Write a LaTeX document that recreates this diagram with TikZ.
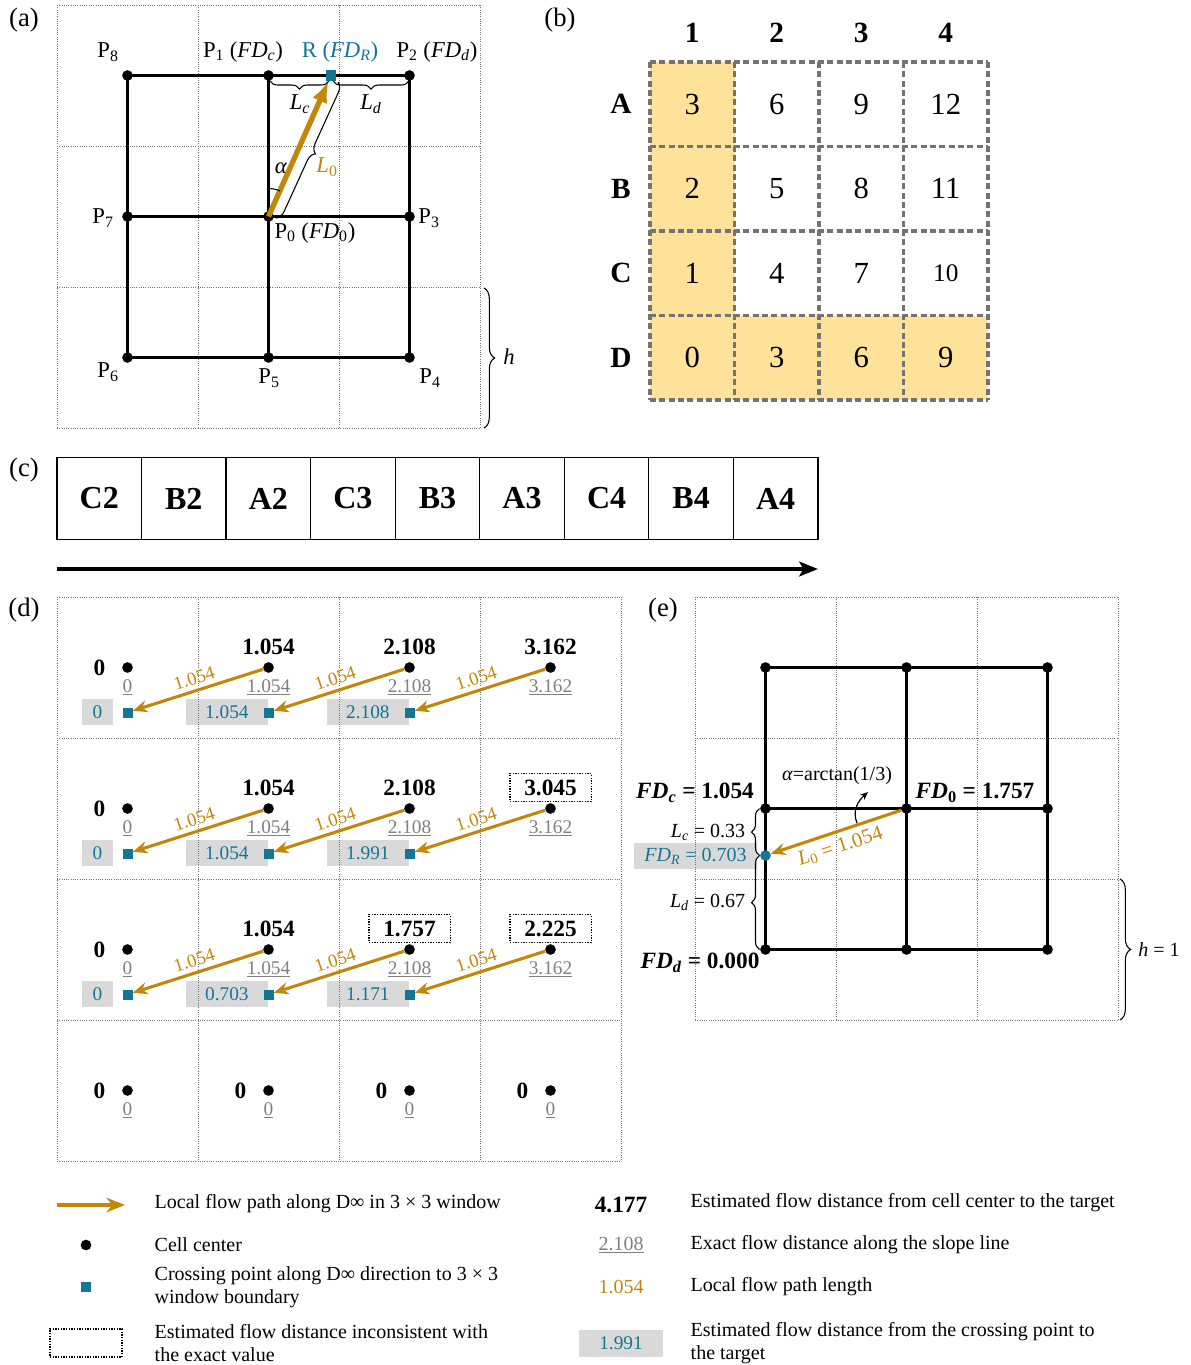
\documentclass[tikz,border=0pt]{standalone}
\usepackage{fontspec}
\setmainfont{Liberation Serif}
\usepackage{xcolor}
\definecolor{flowGold} {RGB}{194,134, 10}
\definecolor{crossBlue}{RGB}{ 21,117,148}
\definecolor{exactGray}{RGB}{128,128,128}
\definecolor{boxGray}  {RGB}{217,217,217}
\definecolor{seqYellow}{RGB}{255,226,153}
\definecolor{gridGray} {RGB}{115,115,115}
\usepackage{tikz}
\usetikzlibrary{
  arrows.meta,
  positioning,
  calc,
  decorations.pathreplacing,
  backgrounds,
}

\begin{document}
\begin{tikzpicture}[
  x=0.75pt, y=-0.75pt,
  font=\fontsize{15}{17.25}\selectfont,
  panel/.style={font=\fontsize{20}{23}\selectfont},
  plabel/.style={font=\fontsize{17}{20}\selectfont},
  cellgrid/.style={densely dotted, gridGray, line width=0.7pt},
  tabgrid/.style={gridGray, line width=2.3pt, dash pattern=on 4.5pt off 2.5pt},
  link/.style={line width=1.6pt},
  centerdot/.style={circle, fill=black, inner sep=0pt, minimum size=8pt},
  crosspt/.style={rectangle, fill=crossBlue, inner sep=0pt, minimum size=7.5pt},
  flowarrow/.style={flowGold, line width=2.3pt, -{Stealth[length=11pt,width=9pt]}},
  curly/.style={decorate, decoration={brace, amplitude=6pt}, line width=0.8pt},
  tabhead/.style={font=\fontsize{22}{26}\selectfont\bfseries},
  tabval/.style={font=\fontsize{23}{27}\selectfont},
  orderbox/.style={draw, line width=0.9pt, outer sep=0pt, minimum width=63.4pt,
    minimum height=62pt, font=\fontsize{24}{28}\selectfont\bfseries},
  estval/.style={font=\fontsize{17.5}{20}\selectfont\bfseries},
  exactval/.style={text=exactGray, font=\fontsize{14.5}{17}\selectfont},
  lenval/.style={text=flowGold, font=\fontsize{14}{16}\selectfont},
  crossval/.style={fill=boxGray, text=crossBlue, inner sep=0pt, minimum height=20pt,
    font=\fontsize{14.5}{17}\selectfont},
  incons/.style={draw, densely dotted, line width=1pt, minimum width=61pt, minimum height=21pt},
  consistent/.style={},
  legtext/.style={anchor=west, align=left},
]
  \useasboundingbox (0,0) rectangle (1191,1365);

  % panel letters
  \node[panel] (pa) at (24,20) {(a)};
  \node[panel] (pb) at (560,20) {(b)};
  \node[panel] (pc) at (24,470) {(c)};
  \node[panel] (pd) at (24,610) {(d)};
  \node[panel] (pe) at (663,610) {(e)};

  % ---------------- (a) D-infinity 3 x 3 window
  \foreach \k in {0,...,3} {
    \draw[cellgrid] ({57+141*\k},5) -- ({57+141*\k},428);
    \draw[cellgrid] (57,{5+141*\k}) -- (480,{5+141*\k});
  }
  \foreach \row in {0,1,2}
    \foreach \col in {0,1,2}
      \node[centerdot] (a-\row-\col) at ({127.5+141*\col},{75.5+141*\row}) {};
  \foreach \k in {0,1,2} {
    \draw[link] (a-\k-0.center) -- (a-\k-2.center);
    \draw[link] (a-0-\k.center) -- (a-2-\k.center);
  }
  \node[crosspt, minimum size=8pt] (aR) at (331,75.5) {};
  \draw[flowarrow, line width=4pt, -{Latex[length=16pt,width=12pt]}] (a-1-1.center) -- (aR);

  \node[plabel] at (108,52) {P\textsubscript{8}};
  \node[plabel] at (243,52) {P\textsubscript{1} (\textit{FD}\textsubscript{\textit{c}})};
  \node[plabel, text=crossBlue] at (340,52) {R (\textit{FD}\textsubscript{\textit{R}})};
  \node[plabel] at (437,52) {P\textsubscript{2} (\textit{FD}\textsubscript{\textit{d}})};
  \node[plabel] at (103,218) {P\textsubscript{7}};
  \node[plabel] at (429,218) {P\textsubscript{3}};
  \node[plabel] at (315,233) {P\textsubscript{0} (\textit{FD}\textsubscript{0})};
  \node[plabel] at (108,372) {P\textsubscript{6}};
  \node[plabel] at (269,378) {P\textsubscript{5}};
  \node[plabel] at (430,378) {P\textsubscript{4}};

  % angle and lengths
  \draw[line width=0.8pt] ($(a-1-1.center)+(0,-28)$) arc[start angle=-90, end angle=-66, radius=28];
  \node[plabel] at (281,168) {\textit{α}};
  \draw[curly] (329,81) -- (270,81);
  \node[plabel] at (300,104) {\textit{L}\textsubscript{\textit{c}}};
  \draw[curly] (409,81) -- (333,81);
  \node[plabel] at (371,104) {\textit{L}\textsubscript{\textit{d}}};
  \draw[curly, decoration={amplitude=7pt}] (338,82) -- (276,218);
  \node[plabel, text=flowGold] at (327,167) {\textit{L}\textsubscript{0}};
  \draw[curly, decoration={amplitude=8pt}] (484,288) -- (484,428);
  \node[plabel] at (509,357) {\textit{h}};

  % ---------------- (b) order of the cells
  \fill[seqYellow] (650,62) rectangle (734.5,400);
  \fill[seqYellow] (650,315.5) rectangle (988,400);
  \foreach \k in {0,...,4} {
    \draw[tabgrid] ({650+84.5*\k},62) -- ({650+84.5*\k},400);
    \draw[tabgrid] (650,{62+84.5*\k}) -- (988,{62+84.5*\k});
  }
  \foreach \row/\lab in {0/A,1/B,2/C,3/D}
    \node[tabhead] (rh-\row) at (621,{104.3+84.5*\row}) {\lab};
  \foreach \col in {1,...,4}
    \node[tabhead] (ch-\col) at ({692.25+84.5*(\col-1)},33) {\col};
  \foreach \row/\va/\vb/\vc/\vd in {0/3/6/9/12, 1/2/5/8/11,
      2/1/4/7/{\fontsize{19}{22}\selectfont 10}, 3/0/3/6/9} {
    \foreach \col/\v in {0/\va,1/\vb,2/\vc,3/\vd}
      \node[tabval] (t-\row-\col) at ({692.25+84.5*\col},{104.3+84.5*\row}) {\v};
  }

  % ---------------- (c) processing sequence
  \foreach \lab [count=\i] in {C2,B2,A2,C3,B3,A3,C4,B4,A4}
    \node[orderbox] (o\i) at ({57+84.55*(\i-0.5)},498.5) {\lab};
  \coordinate (oStart) at (57,569);
  \coordinate (oEnd) at (818,569);
  \draw[line width=3pt, -{Stealth[length=14pt,width=11pt,inset=3pt]}] (oStart) -- (oEnd);

  % ---------------- (d) flow distance on 4 x 4 cells
  \foreach \row in {0,...,3}
    \foreach \col in {0,...,3}
      \node[centerdot] (d-\row-\col) at ({127.5+141*\col},{667.5+141*\row}) {};

  % crossing point values (grey boxes), behind the grid
  \begin{scope}[on background layer]
    \foreach \row/\col/\v in {0/0/0, 0/1/1.054, 0/2/2.108,
                              1/0/0, 1/1/1.054, 1/2/1.991,
                              2/0/0, 2/1/0.703, 2/2/1.171} {
      \ifnum\col=0
        \node[crossval, minimum width=23pt] (cv-\row-\col) at ($(d-\row-\col)+(-30,44.5)$) {\v};
      \else
        \node[crossval, minimum width=62pt, anchor=east] (cv-\row-\col) at ($(d-\row-\col)+(0,44.5)$) {\v};
      \fi
    }
  \end{scope}

  \foreach \k in {0,...,4} {
    \draw[cellgrid] ({57+141*\k},597) -- ({57+141*\k},1161);
    \draw[cellgrid] (57,{597+141*\k}) -- (621,{597+141*\k});
  }

  % estimated flow distance at the cell centres
  \foreach \row in {0,...,3}
    \node[estval] (z-\row-0) at ($(d-\row-0)+(-28,0)$) {0};
  \foreach \col in {1,2,3}
    \node[estval] (z-3-\col) at ($(d-3-\col)+(-28,0)$) {0};
  \foreach \row/\col/\v/\st in {0/1/1.054/consistent, 0/2/2.108/consistent, 0/3/3.162/consistent,
                                1/1/1.054/consistent, 1/2/2.108/consistent, 1/3/3.045/incons,
                                2/1/1.054/consistent, 2/2/1.757/incons, 2/3/2.225/incons}
    \node[estval, \st] (fd-\row-\col) at ($(d-\row-\col)+(0,-21)$) {\v};

  % exact flow distance along the slope line
  \foreach \row in {0,1,2}
    \foreach \col/\v in {0/0,1/1.054,2/2.108,3/3.162}
      \node[exactval] (ex-\row-\col) at ($(d-\row-\col)+(0,20)$) {\underline{\v}};
  \foreach \col in {0,...,3}
    \node[exactval] (ex-3-\col) at ($(d-3-\col)+(0,20)$) {\underline{0}};

  % crossing points and local flow paths
  \foreach \row in {0,1,2}
    \foreach \col in {0,1,2} {
      \pgfmathtruncatemacro{\nxt}{\col+1}
      \node[crosspt] (s-\row-\col) at ($(d-\row-\col)+(0,45)$) {};
      \draw[flowarrow] (d-\row-\nxt) -- (s-\row-\col)
        node[lenval, midway, above=0pt, rotate=18] {1.054};
    }

  % ---------------- (e) crossing point in the window of cell B3
  \begin{scope}[on background layer]
    \node[crossval, minimum width=92pt, minimum height=19.5pt, font=\fontsize{15}{17}\selectfont]
      (fdR) at (695.5,856) {\textit{FD}\textsubscript{\textit{R}} = 0.703};
  \end{scope}
  \foreach \k in {0,...,3} {
    \draw[cellgrid] ({695+141*\k},597) -- ({695+141*\k},1020);
    \draw[cellgrid] (695,{597+141*\k}) -- (1118,{597+141*\k});
  }
  \foreach \row in {0,1,2}
    \foreach \col in {0,1,2}
      \node[centerdot] (w-\row-\col) at ({765.5+141*\col},{667.5+141*\row}) {};
  \foreach \k in {0,1,2} {
    \draw[link] (w-\k-0.center) -- (w-\k-2.center);
    \draw[link] (w-0-\k.center) -- (w-2-\k.center);
  }
  \node[circle, fill=crossBlue, inner sep=0pt, minimum size=8pt] (wR) at (765.5,855.5) {};
  \draw[flowarrow] (w-1-1) -- (wR)
    node[lenval, midway, below=1pt, rotate=18, font=\fontsize{15.5}{17}\selectfont]
    {\textit{L}\textsubscript{0} = 1.054};

  \node (alphaLbl) at (837,776) {\textit{α}=arctan(1/3)};
  \draw[line width=0.9pt, -{Stealth[length=6pt,width=5pt]}] (857,823) .. controls (852,811) and (858,801) .. (868,792);

  \node[estval] (fdc) at (695,793) {\textit{FD}\textsubscript{\textit{c}} = 1.054};
  \node[estval] (fd0) at (975,793) {\textit{FD}\textsubscript{0} = 1.757};
  \node[estval] (fdd) at (700,963) {\textit{FD}\textsubscript{\textit{d}} = 0.000};

  \draw[curly] ($(wR)+(-6,0)$) -- ($(w-1-0)+(-6,0)$)
    node[midway, left=7pt] {\textit{L}\textsubscript{\textit{c}} = 0.33};
  \draw[curly] ($(w-2-0)+(-6,0)$) -- ($(wR)+(-6,0)$)
    node[midway, left=7pt] {\textit{L}\textsubscript{\textit{d}} = 0.67};
  \draw[curly, decoration={amplitude=8pt}] (1120,879) -- (1120,1020)
    node[midway, right=10pt] {\textit{h} = 1};

  % ---------------- legend
  \coordinate (lgA) at (57,1205);
  \coordinate (lgB) at (125,1205);
  \draw[flowarrow, -{Stealth[length=14pt,width=11pt]}] (lgA) -- (lgB);
  \node[legtext] (lt1) at (150,1204) {Local flow path along D∞ in 3 × 3 window};
  \node[centerdot] (lgDot) at (86,1245) {};
  \node[legtext] (lt2) at (150,1245) {Cell center};
  \node[crosspt] (lgCross) at (86,1287) {};
  \node[legtext] (lt3) at (150,1287) {Crossing point along D∞ direction to 3 × 3\\window boundary};
  \node[incons, minimum width=54pt, minimum height=21pt] (lgBox) at (86,1343) {};
  \node[legtext] (lt4) at (150,1343) {Estimated flow distance inconsistent with\\the exact value};

  \node[estval] (lgEst) at (621,1205) {4.177};
  \node[legtext] (lt5) at (686,1203) {Estimated flow distance from cell center to the target};
  \node[exactval, font=\fontsize{15}{17}\selectfont] (lgExact) at (621,1245) {\underline{2.108}};
  \node[legtext] (lt6) at (686,1245) {Exact flow distance along the slope line};
  \node[lenval, font=\fontsize{15}{17}\selectfont] (lgLen) at (621,1287) {1.054};
  \node[legtext] (lt7) at (686,1287) {Local flow path length};
  \node[crossval, minimum width=63pt, minimum height=20pt] (lgCv) at (621,1343.5) {1.991};
  \node[legtext] (lt8) at (686,1343) {Estimated flow distance from the crossing point to\\the target};
\end{tikzpicture}
\end{document}
